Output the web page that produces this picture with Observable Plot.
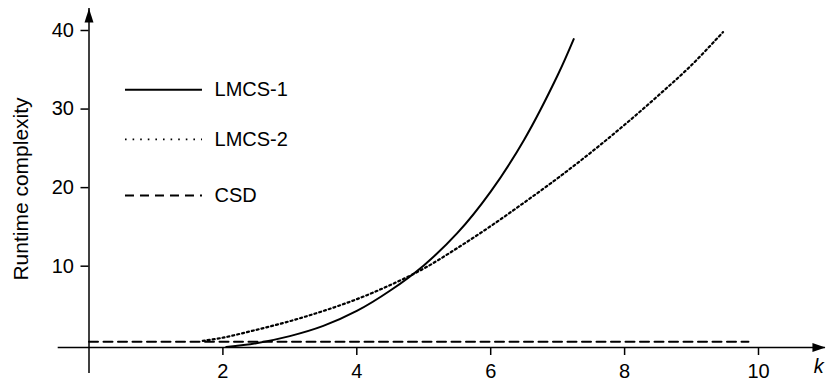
<!DOCTYPE html>
<html>
<head>
<meta charset="utf-8">
<script src="https://cdn.jsdelivr.net/npm/d3@7"></script>
<script src="https://cdn.jsdelivr.net/npm/@observablehq/plot@0.6"></script>
<style>
  html, body { margin: 0; padding: 0; background: #fff; }
  #chart svg { display: block; }
</style>
</head>
<body>
<div id="chart"></div>
<script>
// ---- data ----
const seriesNames = ["LMCS-1", "LMCS-2", "CSD"];

const kLMCS1 = [2.05, 2.5, 3, 3.5, 4, 4.5, 5, 5.5, 6, 6.5, 7, 7.24];
const vLMCS1 = [-0.3, 0.2, 1.1, 2.4, 4.3, 6.9, 10.1, 14.2, 19.5, 26.1, 34.3, 38.9];

const kLMCS2 = [1.7, 2, 2.5, 3, 3.5, 4, 4.5, 5, 5.5, 6, 6.5, 7, 7.5, 8, 8.5, 9, 9.47];
const vLMCS2 = [0.5, 0.9, 1.9, 3.0, 4.3, 5.8, 7.6, 9.7, 12.3, 15.1, 18.1, 21.2, 24.5, 28.0, 31.7, 35.6, 39.8];

const kCSD = [0, 9.85];
const vCSD = [0.38, 0.38];

const xTicks = [2, 4, 6, 8, 10];
const yTicks = [10, 20, 30, 40];
const xLabel = "k";
const yLabel = "Runtime complexity";

// axis extents (data units) incl. arrow tips
const xAxisLevel = -0.35;
const xAxisExtent = [-0.46, 11.0];
const yAxisExtent = [-3.66, 42.8];

// legend placement (data units)
const legendLineX = [0.545, 1.695];
const legendTextX = 1.875;
const legendRowsY = [32.45, 26.13, 19.0];

// ---- build ----
const toRows = (ks, vs) => ks.map((k, i) => ({k, v: vs[i]}));
const rows1 = toRows(kLMCS1, vLMCS1);
const rows2 = toRows(kLMCS2, vLMCS2);
const rows3 = toRows(kCSD, vCSD);

const arrowUp = {draw(ctx) { ctx.moveTo(0, 0); ctx.lineTo(-4.5, 14); ctx.lineTo(4.5, 14); ctx.closePath(); }};
const arrowRight = {draw(ctx) { ctx.moveTo(0, 0); ctx.lineTo(-13, -4.5); ctx.lineTo(-13, 4.5); ctx.closePath(); }};

const font = "'Liberation Sans', Arial, Helvetica, sans-serif";
const styles = [
  {dash: null, width: 2, legendDash: null, legendWidth: 2},
  {dash: "2,3", width: 2.2, legendDash: "1.6,6", legendWidth: 1.7},
  {dash: "9,5.5", width: 2, legendDash: "9,6", legendWidth: 2}
];

const chart = Plot.plot({
  width: 827,
  height: 381,
  marginLeft: 88.5,
  marginRight: 69,
  marginTop: 30,
  marginBottom: 34,
  x: {domain: [0, 10]},
  y: {domain: [-0.35, 40]},
  style: {fontFamily: font, fontSize: "20px", color: "black", background: "white", overflow: "visible"},
  marks: [
    // axis lines
    Plot.ruleY([xAxisLevel], {x1: xAxisExtent[0], x2: xAxisExtent[1], stroke: "black", strokeWidth: 1.5}),
    Plot.ruleX([0], {y1: yAxisExtent[0], y2: yAxisExtent[1], stroke: "black", strokeWidth: 1.5}),
    Plot.dot([{x: 0, y: yAxisExtent[1]}], {x: "x", y: "y", symbol: arrowUp, fill: "black", stroke: null, r: 1}),
    Plot.dot([{x: xAxisExtent[1], y: xAxisLevel}], {x: "x", y: "y", symbol: arrowRight, fill: "black", stroke: null, r: 1}),
    // ticks and labels
    Plot.axisX({ticks: xTicks, tickSize: 8, tickPadding: 8, strokeWidth: 1.5, label: null, fontSize: 20}),
    Plot.axisY({ticks: yTicks, tickSize: 8, tickPadding: 7, strokeWidth: 1.5, label: null, fontSize: 20}),
    Plot.text([xLabel], {x: 10.9, y: -2.77, text: d => d, fontStyle: "italic", fontSize: 20, lineAnchor: "middle", textAnchor: "middle"}),
    Plot.text([yLabel], {frameAnchor: "left", dx: -68, text: d => d, rotate: -90, fontSize: 21, lineAnchor: "middle", textAnchor: "middle"}),
    // series
    Plot.line(rows1, {x: "k", y: "v", stroke: "black", strokeWidth: styles[0].width, curve: "catmull-rom"}),
    Plot.line(rows2, {x: "k", y: "v", stroke: "black", strokeWidth: styles[1].width, strokeDasharray: styles[1].dash, curve: "catmull-rom"}),
    Plot.line(rows3, {x: "k", y: "v", stroke: "black", strokeWidth: styles[2].width, strokeDasharray: styles[2].dash}),
    // legend
    ...seriesNames.map((name, i) => Plot.ruleY([legendRowsY[i]], {
      x1: legendLineX[0], x2: legendLineX[1], stroke: "black",
      strokeWidth: styles[i].legendWidth,
      ...(styles[i].legendDash ? {strokeDasharray: styles[i].legendDash} : {})
    })),
    Plot.text(seriesNames, {x: legendTextX, y: (d, i) => legendRowsY[i], text: d => d, textAnchor: "start", lineAnchor: "middle", fontSize: 20})
  ]
});

document.getElementById("chart").appendChild(chart);
</script>
</body>
</html>
